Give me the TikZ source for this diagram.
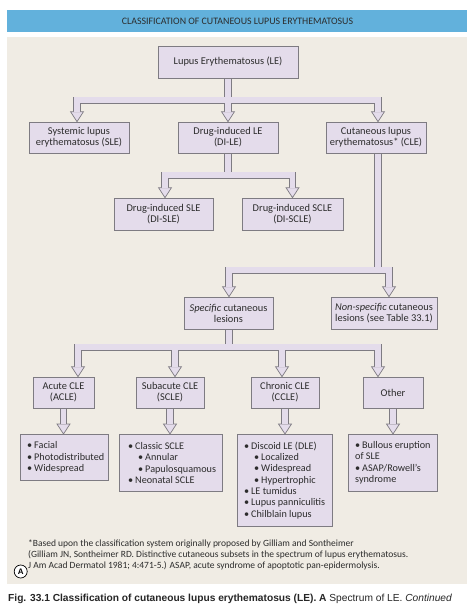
\documentclass[tikz,border=0pt]{standalone}
\usepackage{fontspec}
\setmainfont{Carlito}
\newfontfamily\capfont{Liberation Sans}
\usetikzlibrary{calc}
\definecolor{hdr}{HTML}{62B1DC}
\definecolor{bg}{HTML}{F0ECE4}
\definecolor{lav}{HTML}{E4DCEB}
\definecolor{edge}{HTML}{7E7B82}
\definecolor{txt}{HTML}{2C2C2C}
\newcommand\li[1]{\makebox[7pt][l]{\textbullet}#1}
\newcommand\lii[1]{\hspace*{10pt}\makebox[7pt][l]{\textbullet}#1}
\newcommand\hollow[2]{%
  \draw[shaftout] #1;
  \foreach \h in {#2} {\filldraw[headst] ($(\h)+(-6.5,0)$) -- ($(\h)+(6.5,0)$) -- ($(\h)+(0,10)$) -- cycle;}
  \draw[shaftin] #1;}
\tikzset{
  box/.style={draw=edge, fill=lav, line width=0.7pt, inner sep=0pt, align=center, text=txt,
    font=\fontsize{10.4}{11}\selectfont},
  lst/.style={inner sep=0pt, align=left, text=txt, font=\fontsize{10.2}{11.3}\selectfont},
  shaftout/.style={draw=edge, line width=7.4pt, line join=miter},
  shaftin/.style={draw=lav, line width=5.8pt, line join=miter},
  headst/.style={fill=lav, draw=edge, line width=0.7pt, line join=miter},
  fn/.style={inner sep=0pt, anchor=base west, text=txt, font=\fontsize{9.5}{10}\selectfont},
}
\begin{document}
\begin{tikzpicture}[x=1pt,y=-1pt]
\useasboundingbox (0,0) rectangle (474,611);
\fill[white] (0,0) rectangle (474,611);
\fill[hdr] (7,10) rectangle (467,32);
\node[inner sep=0pt, text=txt, font=\fontsize{9.9}{10}\selectfont] (title) at (237.5,21) {CLASSIFICATION OF CUTANEOUS LUPUS ERYTHEMATOSUS};
\fill[bg] (7,37) rectangle (467,584);

% row 1
\node[box, minimum width=140pt, minimum height=32pt] (LE) at (228,62) {Lupus Erythematosus (LE)};
% row 2
\node[box, minimum width=100pt, minimum height=31pt] (SLE) at (79,137.5) {Systemic lupus\\erythematosus (SLE)};
\node[box, minimum width=100pt, minimum height=31pt] (DILE) at (228,137.5) {Drug-induced LE\\(DI-LE)};
\node[box, minimum width=100pt, minimum height=31pt] (CLE) at (376,137.5) {Cutaneous lupus\\erythematosus* (CLE)};
% row 3
\node[box, minimum width=99pt, minimum height=32pt] (DISLE) at (163.5,214) {Drug-induced SLE\\(DI-SLE)};
\node[box, minimum width=101pt, minimum height=32pt] (DISCLE) at (292.5,214) {Drug-induced SCLE\\(DI-SCLE)};
% row 4
\node[box, minimum width=89pt, minimum height=32pt] (SPEC) at (228.5,313) {\textit{Specific} cutaneous\\lesions};
\node[box, minimum width=106pt, minimum height=32pt] (NONSPEC) at (384,313) {\textit{Non-specific} cutaneous\\lesions (see Table 33.1)};
% row 5
\node[box, minimum width=61pt, minimum height=31pt] (ACLE) at (63.5,392.5) {Acute CLE\\(ACLE)};
\node[box, minimum width=68pt, minimum height=31pt] (SCLE) at (170,392.5) {Subacute CLE\\(SCLE)};
\node[box, minimum width=68pt, minimum height=31pt] (CCLE) at (285,392.5) {Chronic CLE\\(CCLE)};
\node[box, minimum width=60pt, minimum height=31pt] (OTHER) at (393,392.5) {Other};
% row 6 lists
\node[box, anchor=north west, minimum width=88pt, minimum height=46pt] (L1) at (20,434) {};
\node[box, anchor=north west, minimum width=103pt, minimum height=57pt] (L2) at (119,434) {};
\node[box, anchor=north west, minimum width=95pt, minimum height=92pt] (L3) at (237,434) {};
\node[box, anchor=north west, minimum width=89pt, minimum height=57pt] (L4) at (348,434) {};
\node[lst, anchor=west] (L1t) at ([xshift=7pt]L1.west) {\li{Facial}\\\li{Photodistributed}\\\li{Widespread}};
\node[lst, anchor=west] (L2t) at ([xshift=9pt]L2.west) {\li{Classic SCLE}\\\lii{Annular}\\\lii{Papulosquamous}\\\li{Neonatal SCLE}};
\node[lst, anchor=west] (L3t) at ([xshift=7pt]L3.west) {\li{Discoid LE (DLE)}\\\lii{Localized}\\\lii{Widespread}\\\lii{Hypertrophic}\\\li{LE tumidus}\\\li{Lupus panniculitis}\\\li{Chilblain lupus}};
\node[lst, anchor=west] (L4t) at ([xshift=7pt]L4.west) {\li{Bullous eruption}\\of SLE\\\li{ASAP/Rowell's}\\syndrome};

% connector A
\coordinate (aTop) at ($(LE.south)+(0,0.4)$);
\coordinate (aBar) at ($(LE.south)+(0,22)$);
\coordinate (aH1) at ($(SLE.north)+(-2,-10)$);
\coordinate (aH2) at ($(DILE.north)+(0,-10)$);
\coordinate (aH3) at ($(CLE.north)+(2,-10)$);
\hollow{(aTop) -- (aBar) (aH1) -- (aH1 |- aBar) -- (aH3 |- aBar) -- (aH3) (aH2 |- aBar) -- (aH2)}{aH1,aH2,aH3}

% connector B
\coordinate (bTop) at ($(DILE.south)+(0,0.4)$);
\coordinate (bBar) at ($(DILE.south)+(0,22)$);
\coordinate (bH1) at ($(DISLE.north)+(1.5,-10)$);
\coordinate (bH2) at ($(DISCLE.north)+(0,-10)$);
\hollow{(bTop) -- (bBar) (bH1) -- (bH1 |- bBar) -- (bH2 |- bBar) -- (bH2)}{bH1,bH2}

% connector C
\coordinate (cTop) at ($(CLE.south)+(2,0.4)$);
\coordinate (cBar) at ($(CLE.south)+(2,117)$);
\coordinate (cH1) at ($(SPEC.north)+(0.5,-10)$);
\coordinate (cH2) at ($(NONSPEC.north)+(5,-10)$);
\hollow{(cTop) -- (cBar) (cH1) -- (cH1 |- cBar) -- (cH2 |- cBar) -- (cH2)}{cH1,cH2}

% connector D
\coordinate (dTop) at ($(SPEC.south)+(0.5,0.4)$);
\coordinate (dBar) at ($(SPEC.south)+(0.5,18)$);
\coordinate (dH1) at ($(ACLE.north)+(14.5,-10)$);
\coordinate (dH2) at ($(SCLE.north)+(5,-10)$);
\coordinate (dH3) at ($(CCLE.north)+(-3,-10)$);
\coordinate (dH4) at ($(OTHER.north)+(-15,-10)$);
\hollow{(dTop) -- (dBar) (dH1) -- (dH1 |- dBar) -- (dH4 |- dBar) -- (dH4) (dH2 |- dBar) -- (dH2) (dH3 |- dBar) -- (dH3)}{dH1,dH2,dH3,dH4}

% connectors E
\coordinate (eH1) at ($(ACLE.south |- L1.north)+(0,-10)$);
\coordinate (eH2) at ($(SCLE.south |- L2.north)+(0,-10)$);
\coordinate (eH3) at ($(CCLE.south |- L3.north)+(0,-10)$);
\coordinate (eH4) at ($(OTHER.south |- L4.north)+(0,-10)$);
\hollow{($(ACLE.south)+(0,0.4)$) -- (eH1) ($(SCLE.south)+(0,0.4)$) -- (eH2) ($(CCLE.south)+(0,0.4)$) -- (eH3) ($(OTHER.south)+(0,0.4)$) -- (eH4)}{eH1,eH2,eH3,eH4}

% footnote
\node[fn] (fn1) at (28,546) {*Based upon the classification system originally proposed by Gilliam and Sontheimer};
\node[fn] (fn2) at (28,557.5) {(Gilliam JN, Sontheimer RD. Distinctive cutaneous subsets in the spectrum of lupus erythematosus.};
\node[fn] (fn3) at (28,568.5) {J Am Acad Dermatol 1981; 4:471-5.) ASAP, acute syndrome of apoptotic pan-epidermolysis.};
\node[circle, draw=black, line width=0.7pt, fill=white, inner sep=0pt, minimum size=13pt, font=\capfont\bfseries\fontsize{8}{9}\selectfont] (A) at (20.7,571.5) {A};

% caption
\node[inner sep=0pt, anchor=base west, text=black!85, font=\capfont\fontsize{10.2}{11}\selectfont] (cap) at (8,601) {\textbf{Fig. 33.1 Classification of cutaneous lupus erythematosus (LE). A} Spectrum of LE. \textit{Continued}};
\end{tikzpicture}
\end{document}
